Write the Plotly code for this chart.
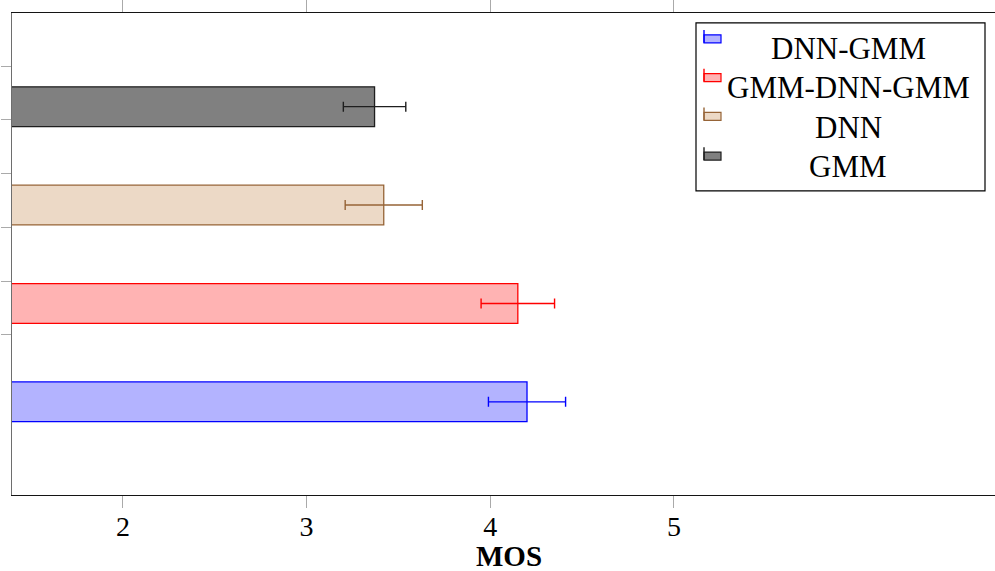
import plotly.graph_objects as go

# ---- data ----
methods = ["DNN-GMM", "GMM-DNN-GMM", "DNN", "GMM"]
positions = [1, 2, 3, 4]
mos = [4.20, 4.15, 3.42, 3.37]
mos_err = [0.21, 0.20, 0.21, 0.17]
x_tick_vals = [2, 3, 4, 5]
x_tick_text = ["2", "3", "4", "5"]
y_tick_vals = [1.683, 2.228, 2.774, 3.319, 3.865, 4.41]
x_title = "MOS"

fill_colors = ["rgb(179,179,255)", "rgb(255,179,179)", "rgb(236,217,198)", "rgb(128,128,128)"]
line_colors = ["rgb(0,0,255)", "rgb(255,0,0)", "rgb(150,100,55)", "rgb(30,30,30)"]

W, H = 995, 571
ML, MR, MT, MB = 12, 0, 10, 76
PW, PH = W - ML - MR, H - MT - MB

def px(x):
    return (x - ML) / PW

def py(y):
    return (H - MB - y) / PH

fig = go.Figure()
for i, m in enumerate(methods):
    fig.add_trace(go.Bar(
        orientation="h",
        y=[positions[i]],
        x=[mos[i]],
        width=0.404,
        name=m,
        marker=dict(color=fill_colors[i], line=dict(color=line_colors[i], width=1.3)),
        error_x=dict(type="data", array=[mos_err[i]], color=line_colors[i], thickness=1.4, width=5),
        showlegend=False,
    ))

serif = "Liberation Serif, Times New Roman, serif"

# ---- custom legend (centered labels, like the original) ----
shapes = []
annotations = []
shapes.append(dict(type="rect", xref="paper", yref="paper",
                   x0=px(696), x1=px(985), y0=py(189), y1=py(20),
                   line=dict(color="black", width=1.2), fillcolor="white", layer="above"))
row_text_y = [46, 85, 125, 164]
row_icon_top = [27, 66, 105, 145]
for i, m in enumerate(methods):
    t = row_icon_top[i]
    shapes.append(dict(type="rect", xref="paper", yref="paper",
                       x0=px(704), x1=px(721), y0=py(t + 13), y1=py(t + 5),
                       line=dict(color=line_colors[i], width=1.2), fillcolor=fill_colors[i], layer="above"))
    shapes.append(dict(type="line", xref="paper", yref="paper",
                       x0=px(704), x1=px(704), y0=py(t + 13), y1=py(t),
                       line=dict(color=line_colors[i], width=1.4), layer="above"))
    annotations.append(dict(xref="paper", yref="paper", x=px(848), y=py(row_text_y[i]),
                            text=m, showarrow=False, xanchor="center", yanchor="middle",
                            font=dict(family=serif, size=31, color="black")))

# x-axis title (placed slightly right of centre as in the original)
annotations.append(dict(xref="paper", yref="paper", x=px(509), y=py(556),
                        text="<b>" + x_title + "</b>", showarrow=False,
                        xanchor="center", yanchor="middle",
                        font=dict(family=serif, size=29, color="black")))

fig.update_layout(
    width=W, height=H,
    margin=dict(l=ML, r=MR, t=MT, b=MB, pad=0),
    paper_bgcolor="white", plot_bgcolor="white",
    barmode="overlay",
    shapes=shapes,
    annotations=annotations,
    xaxis=dict(
        range=[1.396, 6.748],
        tickvals=x_tick_vals, ticktext=x_tick_text,
        ticks="outside", ticklen=12, tickwidth=1, tickcolor="rgb(170,170,170)",
        ticklabelstandoff=-6,
        showline=True, linecolor="rgb(20,20,20)", linewidth=1.3, mirror="ticks",
        showgrid=False, zeroline=False,
        tickfont=dict(family=serif, size=28, color="black"),
    ),
    yaxis=dict(
        range=[0.053, 4.952],
        tickvals=y_tick_vals, showticklabels=False,
        ticks="outside", ticklen=10, tickwidth=1, tickcolor="rgb(170,170,170)",
        showline=True, linecolor="rgb(110,110,110)", linewidth=1.3, mirror=False,
        showgrid=False, zeroline=False,
    ),
)

fig.write_html(
    "out.html",
    config={"displayModeBar": False},
    post_script="document.body.style.margin='0';document.body.style.padding='0';document.body.style.overflow='hidden';",
)
